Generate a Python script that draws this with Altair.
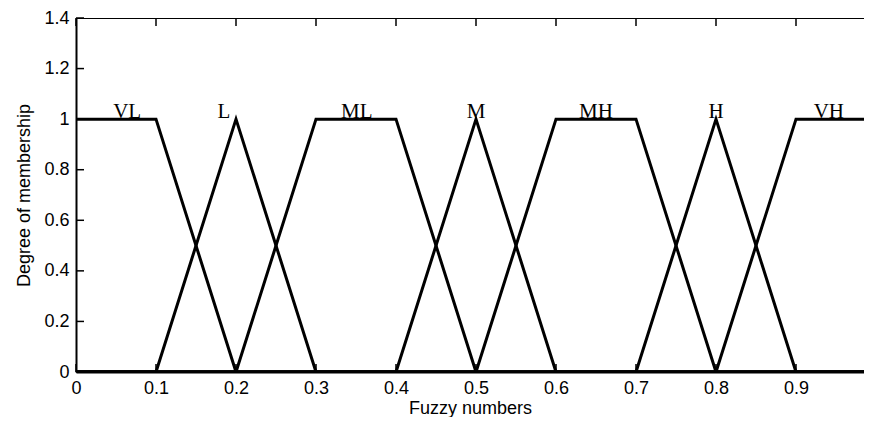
import altair as alt
import pandas as pd

# Membership functions (breakpoints)
categories = ["VL", "L", "ML", "M", "MH", "H", "VH"]
mf_x = {
    "VL": [0.0, 0.1, 0.2, 1.0],
    "L":  [0.0, 0.1, 0.2, 0.3, 1.0],
    "ML": [0.0, 0.2, 0.3, 0.4, 0.5, 1.0],
    "M":  [0.0, 0.4, 0.5, 0.6, 1.0],
    "MH": [0.0, 0.5, 0.6, 0.7, 0.8, 1.0],
    "H":  [0.0, 0.7, 0.8, 0.9, 1.0],
    "VH": [0.0, 0.8, 0.9, 1.0],
}
mf_y = {
    "VL": [1, 1, 0, 0],
    "L":  [0, 0, 1, 0, 0],
    "ML": [0, 0, 1, 1, 0, 0],
    "M":  [0, 0, 1, 0, 0],
    "MH": [0, 0, 1, 1, 0, 0],
    "H":  [0, 0, 1, 0, 0],
    "VH": [0, 0, 1, 1],
}
label_x = [0.064, 0.185, 0.351, 0.5, 0.65, 0.80, 0.941]
label_y = [1, 1, 1, 1, 1, 1, 1]

x_ticks = [0, 0.1, 0.2, 0.3, 0.4, 0.5, 0.6, 0.7, 0.8, 0.9]
y_ticks = [0, 0.2, 0.4, 0.6, 0.8, 1, 1.2, 1.4]

# the right edge of the original figure (x = 1) lies just outside the picture
X_MIN, X_VIEW_MAX, X_MAX = 0, 0.985, 1
Y_MIN, Y_MAX = 0, 1.4
TICK_X = 0.01     # inward tick length in x units
TICK_Y = 0.0316   # inward tick length in y units

rows = []
for s in categories:
    for i, (xv, yv) in enumerate(zip(mf_x[s], mf_y[s])):
        rows.append({"series": s, "idx": i, "x": xv, "y": yv})
df = pd.DataFrame(rows)

lab_df = pd.DataFrame({"label": categories, "x": label_x, "y": label_y})

xt_bottom = pd.DataFrame({"x": x_ticks, "y": Y_MIN, "y2": Y_MIN + TICK_Y})
xt_top = pd.DataFrame({"x": x_ticks, "y": Y_MAX, "y2": Y_MAX - TICK_Y})
yt_left = pd.DataFrame({"y": y_ticks, "x": X_MIN, "x2": X_MIN + TICK_X})
frame_top = pd.DataFrame({"x": [X_MIN], "x2": [X_MAX], "y": [Y_MAX]})

FONT = "Liberation Sans"

xscale = alt.Scale(domain=[X_MIN, X_VIEW_MAX], nice=False, zero=False)
yscale = alt.Scale(domain=[Y_MIN, Y_MAX], nice=False, zero=False)

xaxis = alt.Axis(
    values=x_ticks, format="~g", ticks=False, tickSize=0, grid=False,
    domain=True, domainColor="black", domainWidth=2,
    labelFont=FONT, labelFontSize=18, labelColor="black", labelPadding=7,
    labelFlush=False, labelOverlap=False,
    title="Fuzzy numbers", titleFont=FONT, titleFontSize=18,
    titleFontWeight="normal", titleColor="black",
    titleX=394, titleY=41, titleBaseline="alphabetic",
)
yaxis = alt.Axis(
    values=y_ticks, format="~g", ticks=False, tickSize=0, grid=False,
    domain=True, domainColor="black", domainWidth=2,
    labelFont=FONT, labelFontSize=18, labelColor="black", labelPadding=7,
    labelOverlap=False,
    title="Degree of membership", titleFont=FONT, titleFontSize=18,
    titleFontWeight="normal", titleColor="black",
    titleX=-47, titleY=177, titleBaseline="alphabetic", titleAngle=-90,
)


def X(field="x"):
    return alt.X(f"{field}:Q", scale=xscale, axis=xaxis)


def Y(field="y"):
    return alt.Y(f"{field}:Q", scale=yscale, axis=yaxis)


lines = alt.Chart(df).mark_line(color="black", strokeWidth=3, clip=True).encode(
    x=X(), y=Y(), detail="series:N", order="idx:Q"
)

labels = alt.Chart(lab_df).mark_text(
    font="Liberation Serif", fontSize=21, baseline="alphabetic", dy=-1,
    color="black", align="center"
).encode(x=X(), y=Y(), text="label:N")

tick_style = dict(color="black", strokeWidth=1.5)
t1 = alt.Chart(xt_bottom).mark_rule(**tick_style).encode(x=X(), y=Y(), y2="y2:Q")
t2 = alt.Chart(xt_top).mark_rule(**tick_style).encode(x=X(), y=Y(), y2="y2:Q")
t3 = alt.Chart(yt_left).mark_rule(**tick_style).encode(x=X(), x2="x2:Q", y=Y())
f1 = alt.Chart(frame_top).mark_rule(color="black", strokeWidth=2, clip=True).encode(
    x=X(), x2="x2:Q", y=Y()
)

chart = alt.layer(f1, t1, t2, t3, lines, labels).properties(
    width=788,
    height=354,
    padding={"left": 68, "top": 10, "right": 0, "bottom": 45},
    autosize=alt.AutoSizeParams(type="none"),
).configure_view(stroke=None).configure(background="white")

chart.save("out.html", embed_options={"renderer": "svg", "actions": False})
